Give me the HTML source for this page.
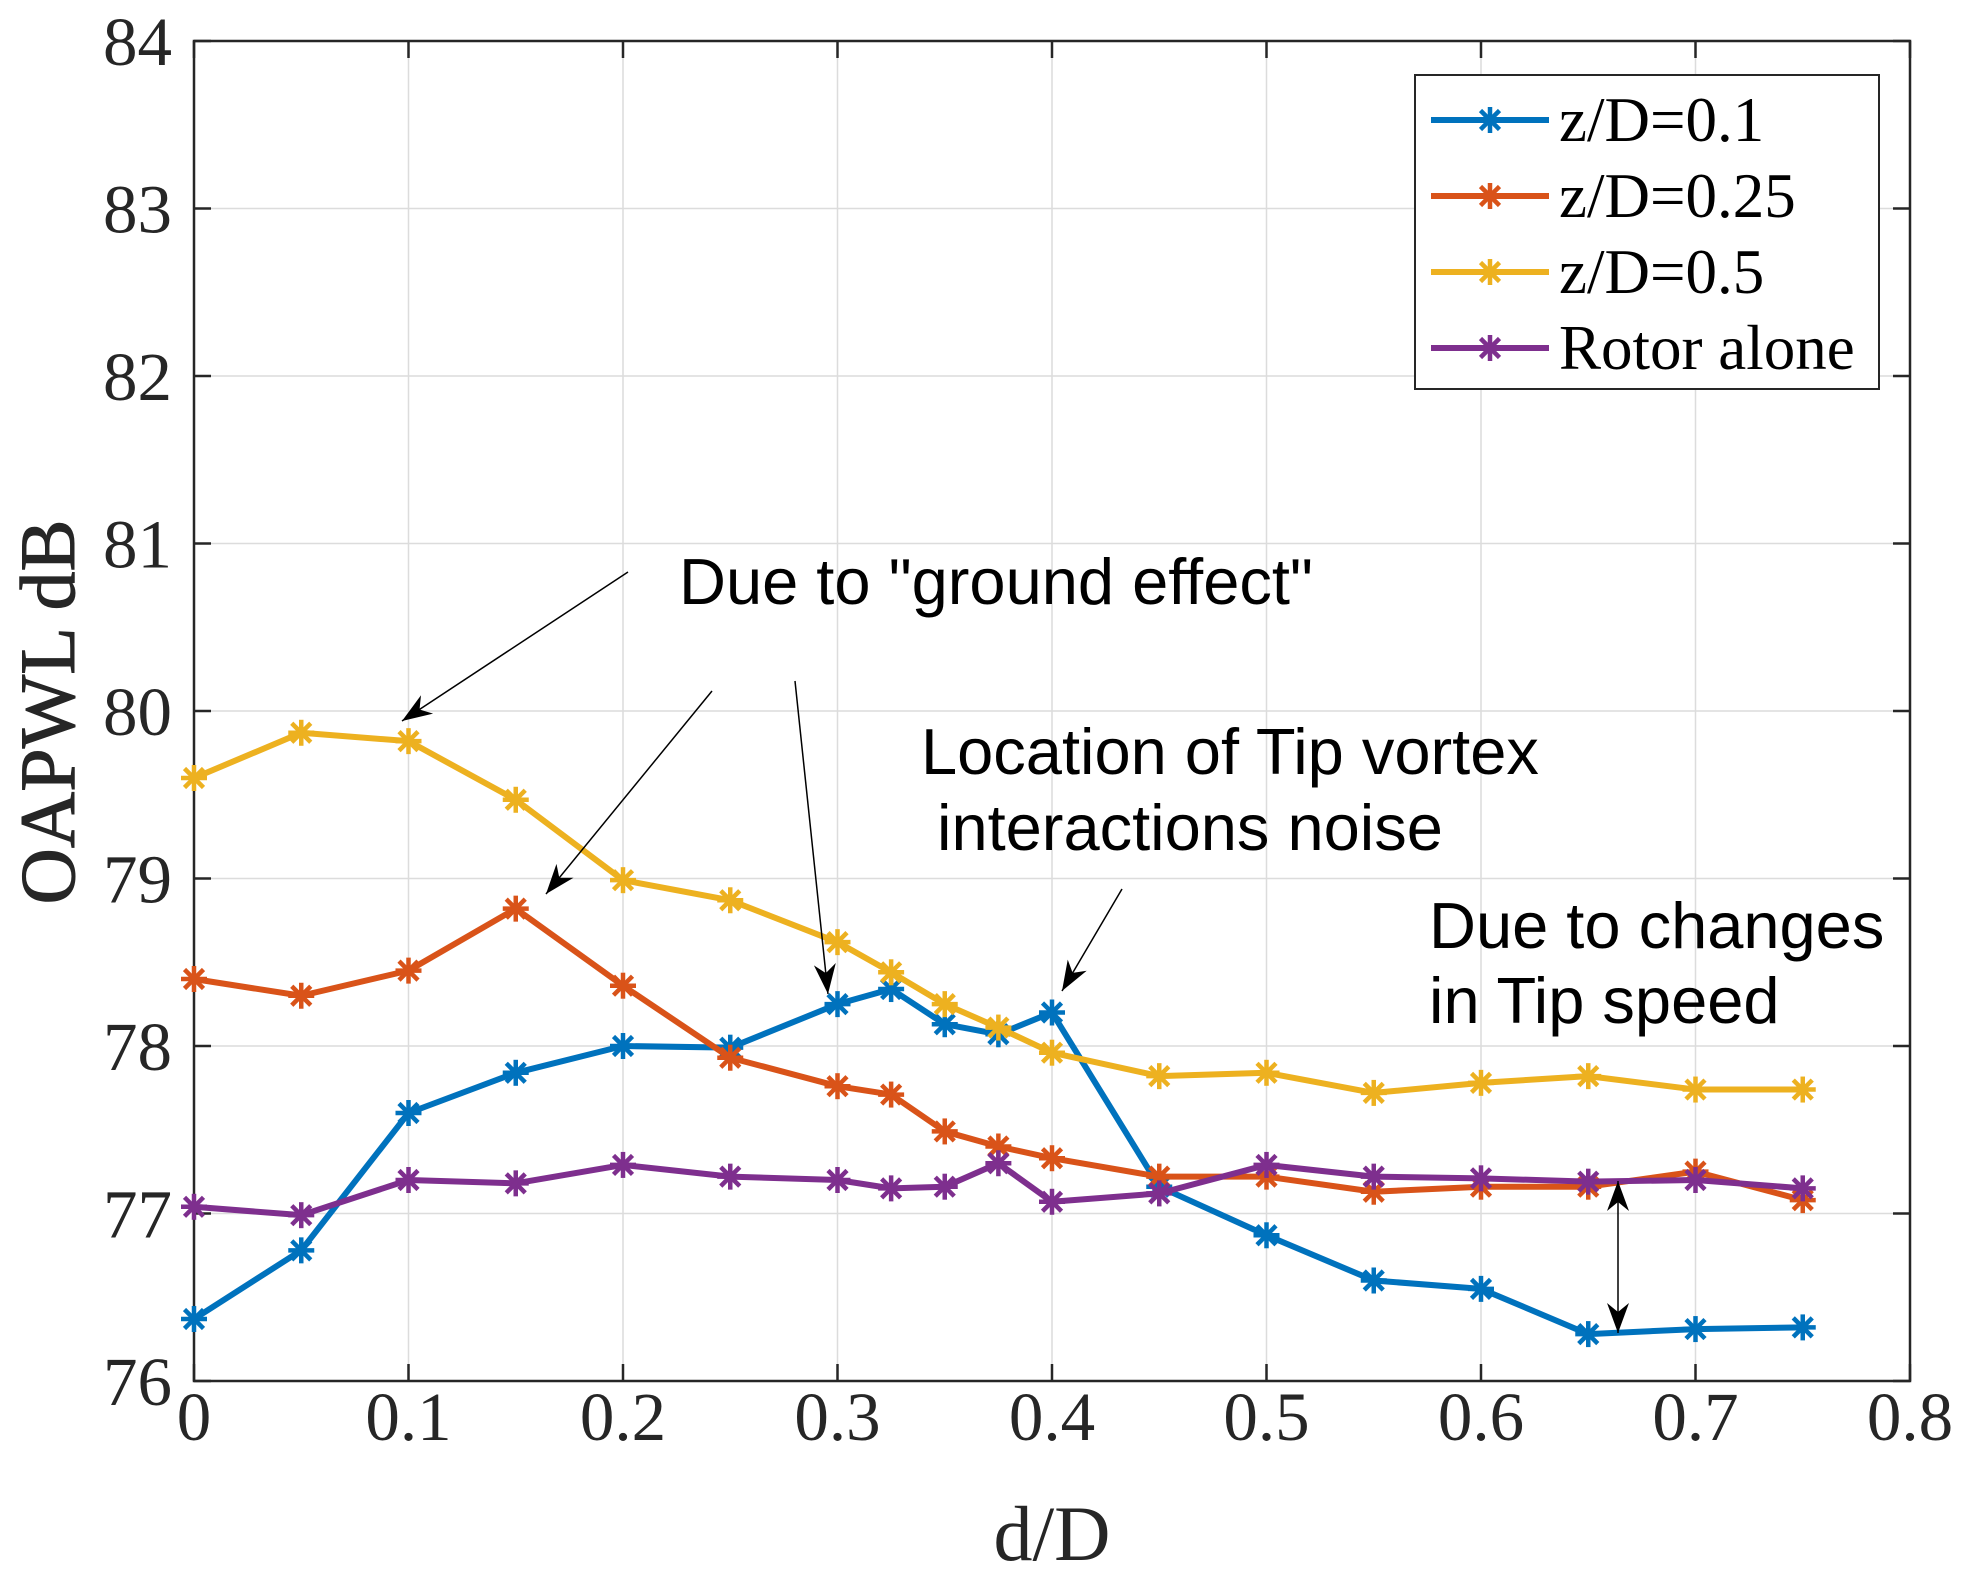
<!DOCTYPE html>
<html><head><meta charset="utf-8"><style>
html,body{margin:0;padding:0;background:#fff;}
svg{display:block;}
</style></head><body>
<svg id="chart" width="1961" height="1574" viewBox="0 0 1961 1574" xmlns="http://www.w3.org/2000/svg" font-family="'Liberation Serif', serif">
<g id="grid"></g>
<g id="axes"></g>
<g id="series"></g>
<g id="annot" font-family="'Liberation Sans', sans-serif" font-size="65" fill="#000">
  <text x="679" y="604">Due to "ground effect"</text>
  <text x="921" y="774">Location of Tip vortex</text>
  <text x="937" y="850"> interactions noise</text>
  <text x="1429" y="948">Due to changes</text>
  <text x="1429" y="1023">in Tip speed</text>
</g>
<g id="legend"></g>
</svg>
<script>
const xs = [0,0.05,0.1,0.15,0.2,0.25,0.3,0.325,0.35,0.375,0.4,0.45,0.5,0.55,0.6,0.65,0.7,0.75];
const seriesNames = ["z/D=0.1","z/D=0.25","z/D=0.5","Rotor alone"];
const blueVals = [76.37,76.78,77.6,77.84,78.0,77.99,78.25,78.34,78.13,78.07,78.2,77.16,76.87,76.6,76.55,76.28,76.31,76.32];
const orangeVals = [78.4,78.3,78.45,78.82,78.36,77.93,77.76,77.71,77.49,77.4,77.33,77.22,77.22,77.13,77.16,77.16,77.25,77.08];
const yellowVals = [79.6,79.87,79.82,79.47,78.99,78.87,78.62,78.44,78.25,78.11,77.96,77.82,77.84,77.72,77.78,77.82,77.74,77.74];
const purpleVals = [77.04,76.99,77.2,77.18,77.29,77.22,77.2,77.15,77.16,77.3,77.07,77.12,77.29,77.22,77.21,77.19,77.2,77.15];
const xTicks = ["0","0.1","0.2","0.3","0.4","0.5","0.6","0.7","0.8"];
const yTicks = ["76","77","78","79","80","81","82","83","84"];

const NS="http://www.w3.org/2000/svg";
const L=194,R=1910,T=41,B=1381;
const xMin=0,xMax=0.8,yMin=76,yMax=84;
function sx(v){return L+(v-xMin)/(xMax-xMin)*(R-L);}
function sy(v){return B-(v-yMin)/(yMax-yMin)*(B-T);}
function mk(tag,attrs,parent){const e=document.createElementNS(NS,tag);for(const k in attrs)e.setAttribute(k,attrs[k]);parent.appendChild(e);return e;}
const grid=document.getElementById('grid'),axes=document.getElementById('axes'),ser=document.getElementById('series'),leg=document.getElementById('legend'),annot=document.getElementById('annot');

xTicks.forEach(t=>{const v=parseFloat(t),x=sx(v);
  const g=mk('line',{x1:x,x2:x,y1:T,y2:B,stroke:'#dcdcdc','stroke-width':1.5},grid);
  
  
  mk('line',{x1:x,x2:x,y1:B,y2:B-17,stroke:'#262626','stroke-width':2.5},axes);
  mk('line',{x1:x,x2:x,y1:T,y2:T+17,stroke:'#262626','stroke-width':2.5},axes);
  const tx=mk('text',{x:x,y:1440,'font-size':69,'text-anchor':'middle',fill:'#262626'},axes);tx.textContent=t;
  
  
});
yTicks.forEach(t=>{const v=parseFloat(t),y=sy(v);
  const g=mk('line',{x1:L,x2:R,y1:y,y2:y,stroke:'#dcdcdc','stroke-width':1.5},grid);
  
  
  mk('line',{x1:L,x2:L+17,y1:y,y2:y,stroke:'#262626','stroke-width':2.5},axes);
  mk('line',{x1:R,x2:R-17,y1:y,y2:y,stroke:'#262626','stroke-width':2.5},axes);
  const tx=mk('text',{x:172,y:y+24,'font-size':69,'text-anchor':'end',fill:'#262626'},axes);tx.textContent=t;
  
  
});
const box=mk('rect',{x:L,y:T,width:R-L,height:B-T,fill:'none',stroke:'#262626','stroke-width':2.5},axes);


const xl=mk('text',{x:1052,y:1560,'font-size':78,'text-anchor':'middle',fill:'#262626'},axes);xl.textContent='d/D';


const yl=mk('text',{x:0,y:0,'font-size':78,'text-anchor':'middle',fill:'#262626','stroke':'#262626','stroke-width':1,transform:'translate(74,712) rotate(-90)'},axes);yl.textContent='OAPWL dB';



function star(x,y,c,parent){const s=13,d=9.5;
  const g=mk('g',{stroke:c,'stroke-width':4.5},parent);
  mk('line',{x1:x-s,x2:x+s,y1:y,y2:y},g);mk('line',{x1:x,x2:x,y1:y-s,y2:y+s},g);
  mk('line',{x1:x-d,x2:x+d,y1:y-d,y2:y+d},g);mk('line',{x1:x-d,x2:x+d,y1:y+d,y2:y-d},g);
  return g;}
const colors=['#0072BD','#D95319','#EDB120','#7E2F8E'];
const allVals=[blueVals,orangeVals,yellowVals,purpleVals];
const names=['series-z-0.1','series-z-0.25','series-z-0.5','series-rotor-alone'];
allVals.forEach((vals,i)=>{
  const g=mk('g',{},ser);
  
  
  const pts=vals.map((v,j)=>sx(xs[j])+','+sy(v)).join(' ');
  mk('polyline',{points:pts,fill:'none',stroke:colors[i],'stroke-width':6,'stroke-linejoin':'round'},g);
  vals.forEach((v,j)=>{const m=star(sx(xs[j]),sy(v),colors[i],g);
    
    });
});
// legend
const lb=mk('rect',{x:1415,y:75,width:464,height:314,fill:'#fff',stroke:'#262626','stroke-width':2},leg);


seriesNames.forEach((n,i)=>{const y=120+i*76;
  const g=mk('g',{},leg);
  
  
  mk('line',{x1:1431,x2:1549,y1:y,y2:y,stroke:colors[i],'stroke-width':6},g);
  star(1490,y,colors[i],g);
  const t=mk('text',{x:1559,y:y+21,'font-size':63,fill:'#000'},g);t.textContent=n;
});
// arrows
function arrow(x1,y1,x2,y2,name,both){
  const g=mk('g',{},annot);
  
  
  mk('line',{x1:x1,y1:y1,x2:x2,y2:y2,stroke:'#000','stroke-width':1.5},g);
  const head=(ax,ay,bx,by)=>{const a=Math.atan2(by-ay,bx-ax),len=30,w=11;
    const px=bx-len*Math.cos(a),py=by-len*Math.sin(a);
    const nx=-Math.sin(a)*w,ny=Math.cos(a)*w;
    const ix=bx-len*0.7*Math.cos(a),iy=by-len*0.7*Math.sin(a);
    mk('polygon',{points:`${bx},${by} ${px+nx},${py+ny} ${ix},${iy} ${px-nx},${py-ny}`,fill:'#000'},g);};
  head(x1,y1,x2,y2);if(both)head(x2,y2,x1,y1);
}
arrow(628,572,402,721,'arrow-ground-yellow');
arrow(712,691,546,894,'arrow-ground-orange');
arrow(795,681,828,994,'arrow-ground-blue');
arrow(1122,889,1062,991,'arrow-tip-vortex');
arrow(1618,1181,1618,1333,'arrow-tip-speed',true);
</script>
</body></html>
